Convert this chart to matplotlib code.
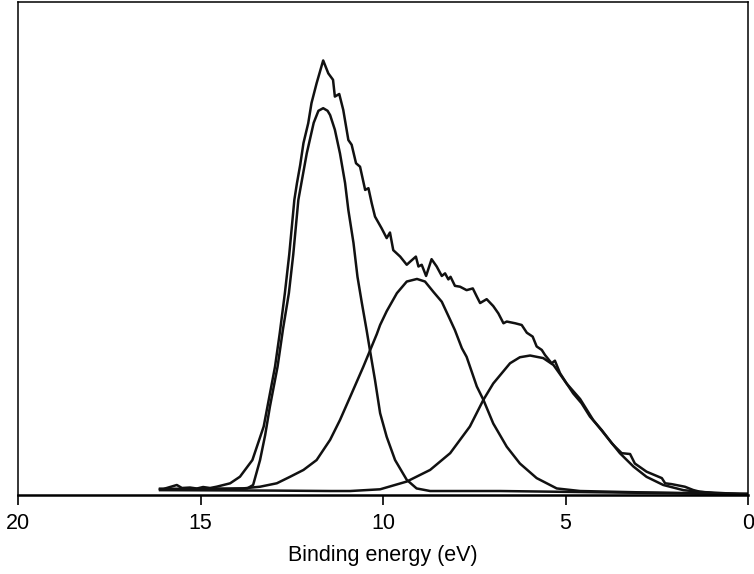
import matplotlib.pyplot as plt

plt.rcParams['font.family'] = ['Liberation Sans', 'DejaVu Sans']

# binding energy (eV) and intensity (arb. units)
total_E = [16.11, 16.02, 15.65, 15.51, 15.29, 15.10, 14.93, 14.74, 14.56, 14.19,
           13.92, 13.58, 13.27, 12.96, 12.83, 12.69, 12.57, 12.43, 12.36, 12.27,
           12.18, 12.05, 11.96, 11.82, 11.64, 11.50, 11.37, 11.32, 11.20, 11.09,
           10.95, 10.86, 10.74, 10.63, 10.49, 10.40, 10.31, 10.22, 10.04, 9.90,
           9.81, 9.72, 9.53, 9.35, 9.26, 9.10, 9.03, 8.94, 8.82, 8.67,
           8.53, 8.39, 8.30, 8.21, 8.15, 8.03, 7.89, 7.71, 7.54, 7.43,
           7.34, 7.16, 6.98, 6.84, 6.70, 6.61, 6.38, 6.20, 6.06, 5.90,
           5.79, 5.65, 5.56, 5.38, 5.29, 5.15, 4.97, 4.79, 4.56, 4.33,
           4.01, 3.73, 3.64, 3.46, 3.23, 3.10, 2.78, 2.36, 2.27, 2.09,
           1.73, 1.50, 1.32, 0.95, 0.58, 0.22, 0.0]
total_I = [0.47, 0.47, 1.40, 0.70, 0.81, 0.58, 0.93, 0.70, 1.00, 1.79,
           3.33, 7.2, 15.0, 28.9, 36.7, 46.0, 55.0, 67.7, 71.5, 75.8,
           80.9, 85.5, 90.2, 94.8, 100.1, 97.1, 95.6, 91.7, 92.3, 88.6,
           81.6, 80.5, 76.2, 75.4, 70.0, 70.4, 66.9, 63.8, 61.1, 58.8,
           60.1, 56.0, 54.5, 52.6, 53.3, 54.5, 52.2, 52.6, 50.0, 53.9,
           52.2, 50.0, 50.6, 49.2, 49.8, 47.7, 47.5, 46.7, 47.1, 45.2,
           43.7, 44.6, 43.0, 41.3, 39.0, 39.4, 39.0, 38.6, 36.8, 35.9,
           33.6, 32.8, 31.6, 29.7, 30.3, 27.4, 25.0, 22.7, 20.4, 17.3,
           14.2, 11.1, 10.3, 8.8, 8.6, 6.4, 4.5, 3.0, 1.8, 1.6,
           1.0, 0.23, -0.16, -0.5, -0.7, -0.7, -0.7]

peak1_E = [16.11, 15.01, 14.20, 13.72, 13.56, 13.37, 13.23, 13.10, 12.89, 12.74,
           12.58, 12.46, 12.32, 12.09, 11.90, 11.77, 11.64, 11.52, 11.45, 11.32,
           11.18, 11.04, 10.95, 10.81, 10.70, 10.58, 10.45, 10.36, 10.22, 10.08,
           9.90, 9.67, 9.35, 9.08, 8.71, 6.79, 4.05, 0.0]
peak1_I = [0.47, 0.47, 0.5, 0.6, 1.4, 7.2, 13.0, 19.6, 28.9, 37.7,
           46.0, 55.0, 67.7, 78.5, 85.6, 88.4, 89.0, 88.4, 87.4, 84.0,
           78.5, 71.6, 65.3, 57.7, 49.8, 43.7, 37.4, 32.8, 25.8, 18.1,
           12.6, 7.2, 2.6, 0.6, 0.0, 0.0, -0.3, -0.7]

peak2_E = [16.11, 14.93, 13.84, 13.37, 12.91, 12.55, 12.18, 11.82, 11.45, 11.18,
           10.90, 10.54, 10.17, 10.08, 9.90, 9.62, 9.35, 9.07, 8.85, 8.62,
           8.39, 8.16, 8.03, 7.84, 7.71, 7.43, 7.25, 6.98, 6.61, 6.25,
           5.79, 5.24, 4.60, 3.00, 0.0]
peak2_I = [0.47, 0.5, 0.6, 1.0, 1.8, 3.3, 4.9, 7.2, 11.9, 16.5,
           21.9, 28.9, 36.5, 38.6, 41.8, 46.0, 48.7, 49.3, 48.7, 46.3,
           44.0, 39.8, 37.4, 33.2, 31.2, 24.3, 21.2, 15.7, 10.3, 6.4,
           3.0, 0.6, 0.0, -0.3, -0.7]

peak3_E = [16.11, 13.00, 11.45, 10.90, 10.08, 9.35, 8.71, 8.16, 7.62, 7.25,
           6.98, 6.52, 6.25, 5.97, 5.61, 5.33, 4.97, 4.60, 4.24, 3.87,
           3.51, 3.14, 2.78, 2.32, 1.77, 1.32, 0.22, 0.0]
peak3_I = [0.2, 0.1, 0.0, 0.0, 0.4, 2.2, 4.9, 8.8, 15.0, 21.2,
           25.0, 29.7, 31.1, 31.5, 30.9, 29.3, 25.0, 21.4, 16.5, 12.6,
           8.8, 5.7, 3.3, 1.4, 0.2, -0.2, -0.7, -0.7]

xticks = [20, 15, 10, 5, 0]

fig = plt.figure(figsize=(7.54, 5.74), dpi=100)
ax = fig.add_axes([0.024, 0.1376, 0.968, 0.859])

for E, I in [(peak1_E, peak1_I), (peak2_E, peak2_I), (peak3_E, peak3_I), (total_E, total_I)]:
    ax.plot(E, I, color='#111111', lw=1.8)

ax.set_xlim(20, 0)
ax.set_ylim(-0.93, 113.7)
ax.set_xticks(xticks)
ax.set_yticks([])
ax.tick_params(axis='x', direction='out', length=7, width=1.2, pad=6, labelsize=15.5)
for side in ['left', 'right', 'top']:
    ax.spines[side].set_linewidth(1.1)
ax.spines['bottom'].set_linewidth(1.8)
ax.set_xlabel('Binding energy (eV)', fontsize=15.5, labelpad=8)

fig.savefig('out.png', dpi=100)
